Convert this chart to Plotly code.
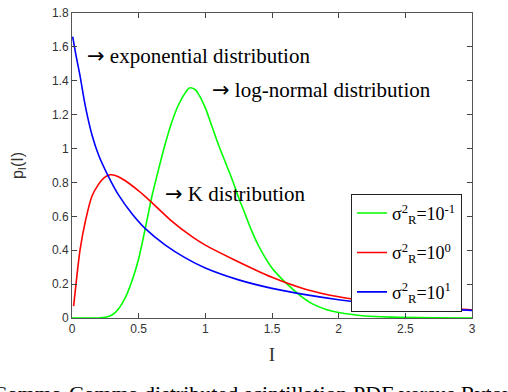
import plotly.graph_objects as go

# values
x_green = [0.0, 0.1, 0.2, 0.25, 0.3, 0.35, 0.4, 0.45, 0.5, 0.55, 0.6, 0.65, 0.7, 0.75, 0.8,
           0.85, 0.88, 0.92, 0.95, 1.0, 1.05, 1.1, 1.15, 1.2, 1.25, 1.3, 1.35, 1.4, 1.45, 1.5,
           1.55, 1.6, 1.7, 1.8, 1.9, 2.0, 2.2, 2.4, 2.7, 3.0]
y_green = [0.0, 0.0, 0.0, 0.004, 0.018, 0.055, 0.12, 0.22, 0.35, 0.53, 0.72, 0.88, 1.03, 1.16, 1.26,
           1.33, 1.358, 1.35, 1.32, 1.24, 1.13, 1.02, 0.92, 0.82, 0.71, 0.61, 0.51, 0.425, 0.355, 0.295,
           0.25, 0.21, 0.14, 0.085, 0.052, 0.032, 0.012, 0.005, 0.001, 0.0]

x_red = [0.012, 0.03, 0.06, 0.1, 0.15, 0.2, 0.24, 0.285, 0.33, 0.4, 0.5, 0.587, 0.75, 0.9, 1.0,
         1.2, 1.5, 1.75, 2.0, 2.25, 2.5, 2.75, 3.0]
y_red = [0.07, 0.2, 0.4, 0.57, 0.72, 0.79, 0.827, 0.845, 0.84, 0.81, 0.75, 0.69, 0.57, 0.48, 0.43,
         0.35, 0.24, 0.17, 0.125, 0.095, 0.075, 0.06, 0.048]

x_blue = [0.005, 0.03, 0.06, 0.1, 0.15, 0.2, 0.267, 0.35, 0.45, 0.55, 0.7, 0.85, 1.0, 1.25,
          1.5, 1.75, 2.0, 2.25, 2.5, 2.75, 3.0]
y_blue = [1.66, 1.55, 1.43, 1.25, 1.08, 0.96, 0.845, 0.725, 0.615, 0.527, 0.43, 0.355, 0.295, 0.225,
          0.175, 0.138, 0.108, 0.085, 0.068, 0.055, 0.045]

series_names = ['σ<sup>2</sup><sub>R</sub>=10<sup>-1</sup>',
                'σ<sup>2</sup><sub>R</sub>=10<sup>0</sup>',
                'σ<sup>2</sup><sub>R</sub>=10<sup>1</sup>']
series_colors = ['#00ff00', '#ff0000', '#0000ff']

notes = ['exponential distribution', 'log-normal distribution', 'K distribution']
note_x = [0.1, 1.033, 0.682]
note_y = [1.545, 1.345, 0.73]

y_ticks = [0, 0.2, 0.4, 0.6, 0.8, 1, 1.2, 1.4, 1.6, 1.8]
y_ticktext = ['0', '0.2', '0.4', '0.6', '0.8', '1', '1.2', '1.4', '1.6', '1.8']

caption = 'Gamma-Gamma distributed scintillation PDF versus Rytov variance'

serif = 'Liberation Serif, Times New Roman, serif'
sans = 'Liberation Sans, Arial, sans-serif'
arrow = '<span style="font-family:DejaVu Sans">→</span> '

fig = go.Figure()

for i, (xs, ys) in enumerate([(x_green, y_green), (x_red, y_red), (x_blue, y_blue)]):
    fig.add_trace(
        go.Scatter(
            x=xs,
            y=ys,
            mode='lines',
            name=series_names[i],
            legendgroup=str(i),
            line=dict(color=series_colors[i], width=1.6, shape='spline', smoothing=0.8),
        )
    )

for txt, nx, ny in zip(notes, note_x, note_y):
    fig.add_annotation(
        x=nx, y=ny, text=arrow + txt, showarrow=False,
        xanchor='left', yanchor='middle',
        font=dict(family=serif, size=21, color='black'),
    )

fig.add_annotation(
    xref='paper', yref='paper', x=-0.205, y=-0.2,
    text=caption, showarrow=False, xanchor='left', yanchor='top',
    font=dict(family=serif, size=22, color='black'),
)

fig.update_layout(
    width=508,
    height=392,
    margin=dict(l=72, r=36, t=6, b=74),
    paper_bgcolor='white',
    plot_bgcolor='white',
    showlegend=True,
    legend=dict(
        x=0.975, y=0.407, xanchor='right', yanchor='top',
        bgcolor='white', bordercolor='#222', borderwidth=1,
        font=dict(family=serif, size=18, color='black'),
        tracegroupgap=13,
    ),
)

fig.update_xaxes(
    range=[0, 3], dtick=0.5, ticks='inside', ticklen=5, mirror='ticks',
    showline=True, linecolor='#555', linewidth=1, showgrid=False, zeroline=False,
    tickfont=dict(family=sans, size=12, color='#333'),
    title=dict(text='I', font=dict(family=serif, size=19, color='#333'), standoff=12),
)

fig.update_yaxes(
    range=[0, 1.8], tickvals=y_ticks, ticktext=y_ticktext, ticks='inside', ticklen=5,
    mirror='ticks', showline=True, linecolor='#555', linewidth=1, showgrid=False,
    zeroline=False, ticklabeloverflow='allow',
    tickfont=dict(family=sans, size=12, color='#333'),
    title=dict(text='p<sub>I</sub>(I)', font=dict(family=sans, size=16, color='#333'), standoff=24),
)

fig.write_html(
    "out.html",
    config={'displayModeBar': False},
    post_script="document.body.style.margin='0px';",
)
